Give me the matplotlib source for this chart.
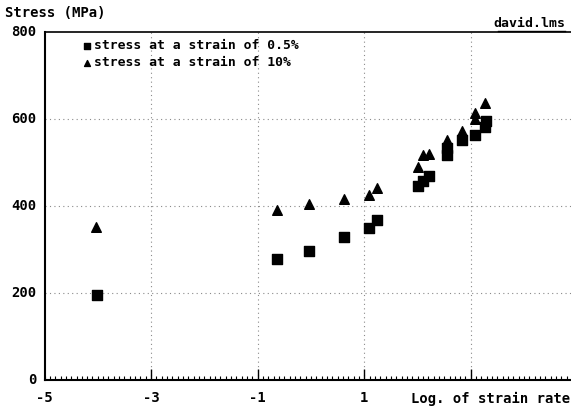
import matplotlib
matplotlib.use("Agg")
import matplotlib.pyplot as plt
from matplotlib.ticker import MultipleLocator

# log10 strain rate and stress (MPa)
x_low = [-4.02, -0.64, -0.04, 0.62, 1.09, 1.24, 2.01, 2.10, 2.21, 2.55, 2.55,
         2.83, 3.08, 3.26, 3.28]
y_low = [195, 278, 297, 329, 349, 368, 446, 457, 469, 517, 533,
         552, 563, 582, 595]

x_high = [-4.03, -0.64, -0.04, 0.62, 1.09, 1.24, 2.01, 2.10, 2.21, 2.55,
          2.83, 3.08, 3.08, 3.26]
y_high = [352, 391, 405, 416, 425, 441, 490, 517, 520, 552,
          572, 600, 614, 637]

x_ticks = [-5, -3, -1, 1]
y_ticks = [0, 200, 400, 600, 800]
grid_x = [-3, -1, 1, 3]
grid_y = [200, 400, 600]

font = {"family": "DejaVu Sans Mono", "weight": "bold"}

fig = plt.figure(figsize=(5.71, 4.08), dpi=100)
ax = fig.add_axes([0.078, 0.0686, 0.922, 0.853])

for gx in grid_x:
    ax.axvline(gx, color="#8a8a8a", lw=0.8, ls=(0, (1, 3)), zorder=1)
for gy in grid_y:
    ax.axhline(gy, color="#8a8a8a", lw=0.8, ls=(0, (1, 3)), zorder=1)

ax.scatter(x_low, y_low, marker="s", s=42, color="black", zorder=3)
ax.scatter(x_high, y_high, marker="^", s=48, color="black", zorder=3)

ax.set_xlim(-5, 4.88)
ax.set_ylim(0, 800)

ax.spines["right"].set_visible(False)
for s in ["left", "top", "bottom"]:
    ax.spines[s].set_linewidth(1.5)
ax.spines["top"].set_linewidth(1.2)

ax.set_xticks(grid_x)
ax.set_xticklabels([])
ax.xaxis.set_minor_locator(MultipleLocator(0.1))
ax.tick_params(axis="x", which="major", direction="in", length=8, width=1)
ax.tick_params(axis="x", which="minor", direction="in", length=3, width=0.8)
ax.set_yticks(y_ticks)
ax.set_yticklabels([])
ax.tick_params(axis="y", length=0)

# tick labels placed like the old plotter output
for v in x_ticks:
    ax.text(v, -41, str(v), ha="center", va="center", fontsize=10, **font)
for v in y_ticks:
    ax.text(-5.16, v, str(v), ha="right", va="center", fontsize=10, **font)

fig.text(0.008, 0.968, "Stress (MPa)", ha="left", va="center", fontsize=10, **font)
fig.text(0.99, 0.942, "david.lms", ha="right", va="center", fontsize=9.5,
         **font)
fig.add_artist(plt.Line2D([0.872, 0.99], [0.924, 0.924], color="black", lw=1))
fig.text(0.998, 0.022, "Log. of strain rate", ha="right", va="center",
         fontsize=10, **font)

ax.scatter([-4.2], [768], marker="s", s=14, color="black", zorder=3)
ax.scatter([-4.2], [729], marker="^", s=18, color="black", zorder=3)
ax.text(-4.07, 768, "stress at a strain of 0.5%", ha="left", va="center",
        fontsize=9.4, **font)
ax.text(-4.07, 729, "stress at a strain of 10%", ha="left", va="center",
        fontsize=9.4, **font)

fig.savefig("out.png", dpi=100)
